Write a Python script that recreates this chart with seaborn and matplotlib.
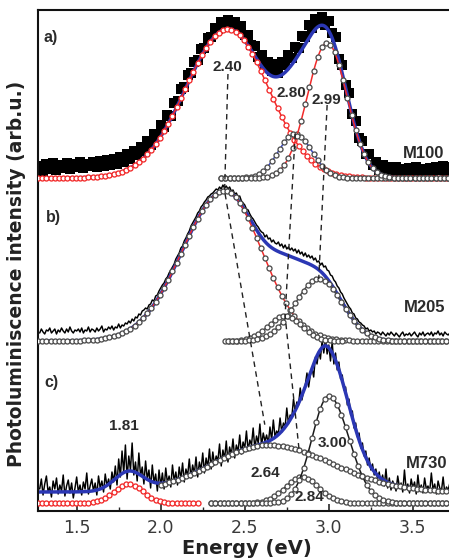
import numpy as np
import matplotlib
matplotlib.use("Agg")
import matplotlib.pyplot as plt
import seaborn as sns

sns.set_theme(style="white")
plt.rcParams["font.family"] = ["Liberation Sans", "DejaVu Sans"]

# ---------------------------------------------------------------
# Measured PL spectra (intensity above each trace's own baseline)
# evenly sampled between 1.28 and 3.72 eV
# ---------------------------------------------------------------
energy_first, energy_last = 1.28, 3.72

pl_m100 = [
    12, 7, 14, 9, 15, 8,
    13, 10, 15, 9, 14, 11, 16, 10, 14, 12,
    16, 11, 17, 12, 18, 13, 19, 14, 21, 16,
    24, 19, 27, 23, 31, 27, 37, 33, 44, 42,
    53, 51, 63, 62, 75, 77, 89, 91, 103, 105,
    116, 118, 129, 130, 140, 141, 150, 149, 156, 153,
    158, 154, 156, 151, 152, 143, 143, 133, 132, 121,
    123, 113, 116, 107, 114, 105, 116, 113, 123, 120,
    131, 130, 142, 141, 153, 150, 159, 155, 161, 153,
    157, 145, 141, 119, 113, 93, 85, 64, 57, 40,
    37, 24, 24, 13, 16, 8, 13, 6, 11, 5,
    11, 4, 9, 6, 10, 5, 11, 5, 9, 6,
    10, 7, 11, 8, 12, 7, 11,
]

pl_m205 = [
    8, 12,
    9, 7, 11, 10, 13, 8, 10, 12, 7, 11,
    9, 13, 10, 8, 12, 9, 14, 10, 8, 11,
    10, 12, 9, 13, 8, 11, 10, 14, 9, 12,
    11, 9, 13, 10, 12, 15, 9, 12, 11, 14,
    12, 15, 11, 14, 13, 17, 13, 16, 15, 18,
    17, 20, 18, 22, 20, 24, 23, 27, 26, 30,
    31, 33, 32, 36, 37, 41, 40, 45, 46, 50,
    53, 56, 58, 62, 64, 68, 71, 74, 77, 82,
    85, 88, 93, 95, 100, 103, 107, 110, 115, 118,
    121, 124, 128, 130, 134, 136, 139, 141, 144, 145,
    147, 148, 150, 152, 151, 154, 152, 156, 153, 155,
    152, 154, 150, 151, 147, 148, 144, 145, 140, 138,
    136, 132, 131, 127, 124, 122, 119, 116, 114, 111,
    109, 108, 104, 106, 102, 103, 99, 101, 98, 97,
    99, 95, 97, 93, 96, 92, 94, 91, 93, 90,
    92, 88, 91, 87, 89, 85, 88, 84, 86, 83,
    85, 81, 83, 79, 80, 76, 78, 74, 75, 71,
    70, 66, 65, 61, 59, 55, 53, 49, 47, 43,
    40, 37, 34, 32, 28, 27, 23, 22, 19, 18,
    16, 15, 12, 13, 10, 11, 9, 10, 7, 9,
    8, 6, 9, 7, 5, 8, 6, 9, 7, 5,
    8, 6, 4, 7, 9, 5, 7, 6, 8, 5,
    7, 9, 6, 4, 8, 6, 9, 5, 7, 8,
    6, 9, 5, 8, 7, 10, 6, 8, 5, 9,
    7, 6, 8,
]

pl_m730 = [
    14, 24,
    8, 19, 27, 11, 16, 6, 22, 14, 25, 9,
    18, 12, 28, 7, 17, 23, 10, 20, 5, 15,
    26, 11, 18, 8, 21, 14, 30, 9, 17, 24,
    12, 20, 8, 27, 15, 22, 11, 29, 17, 24,
    14, 31, 21, 37, 18, 44, 26, 52, 30, 58,
    24, 47, 33, 60, 28, 41, 22, 50, 27, 36,
    19, 42, 24, 33, 15, 38, 20, 29, 12, 33,
    17, 30, 14, 35, 20, 27, 16, 38, 22, 31,
    18, 36, 24, 40, 21, 34, 27, 44, 25, 38,
    29, 46, 26, 41, 33, 50, 30, 45, 36, 54,
    34, 51, 38, 47, 42, 59, 37, 53, 44, 62,
    41, 56, 48, 64, 45, 58, 51, 68, 49, 61,
    55, 72, 52, 63, 58, 75, 54, 67, 60, 79,
    57, 70, 62, 68, 59, 76, 63, 83, 66, 72,
    69, 85, 71, 80, 76, 95, 79, 88, 86, 104,
    92, 101, 98, 115, 103, 112, 118, 130, 116, 128,
    135, 126, 146, 139, 152, 144, 162, 150, 165, 149,
    158, 142, 161, 139, 150, 133, 141, 124, 128, 113,
    116, 98, 104, 88, 92, 75, 80, 66, 70, 55,
    60, 47, 52, 38, 45, 33, 39, 28, 34, 24,
    31, 19, 28, 17, 34, 15, 25, 13, 22, 18,
    12, 27, 16, 20, 11, 33, 14, 19, 10, 24,
    15, 21, 9, 28, 13, 18, 10, 25, 14, 17,
    11, 30, 13, 19, 9, 22, 15, 12, 26, 10,
    16, 13, 20,
]

samples = ["M100", "M205", "M730"]
panel_tags = ["a)", "b)", "c)"]
trace_offsets = [333, 170, 8]

# ---------------------------------------------------------------
# Gaussian fit bands: centre (eV), height, low/high-side sigma,
# energy span drawn, baseline the band sits on
# ---------------------------------------------------------------
m100_centres = [2.40, 2.80, 2.99]
m100_heights = [149, 44, 135]
m100_sigma_low = [0.25, 0.10, 0.118]
m100_sigma_high = [0.24, 0.10, 0.118]
m100_spans = [(1.27, 3.72), (2.36, 3.72), (2.36, 3.72)]
m100_floor = [0, 0, 0]
m100_background = 0

m205_centres = [2.38, 2.74, 2.94]
m205_heights = [150, 25, 62]
m205_sigma_low = [0.25, 0.10, 0.14]
m205_sigma_high = [0.22, 0.10, 0.14]
m205_spans = [(1.27, 3.72), (2.38, 3.10), (2.40, 3.72)]
m205_floor = [0, 0, 0]
m205_background = 0

m730_centres = [1.81, 2.64, 2.84, 3.00]
m730_heights = [19, 47, 26, 107]
m730_sigma_low = [0.085, 0.33, 0.10, 0.10]
m730_sigma_high = [0.085, 0.38, 0.10, 0.12]
m730_spans = [(1.27, 2.22), (2.00, 3.72), (2.30, 3.72), (2.30, 3.72)]
m730_floor = [0, 11, 0, 0]
m730_background = 11

# which bands carry a printed peak energy
m100_labelled = [True, True, True]
m205_labelled = [False, False, False]
m730_labelled = [True, True, True, True]

fits = {
    "M100": dict(centre=m100_centres, height=m100_heights, s_lo=m100_sigma_low,
                 s_hi=m100_sigma_high, span=m100_spans, floor=m100_floor,
                 bg=m100_background, labelled=m100_labelled),
    "M205": dict(centre=m205_centres, height=m205_heights, s_lo=m205_sigma_low,
                 s_hi=m205_sigma_high, span=m205_spans, floor=m205_floor,
                 bg=m205_background, labelled=m205_labelled),
    "M730": dict(centre=m730_centres, height=m730_heights, s_lo=m730_sigma_low,
                 s_hi=m730_sigma_high, span=m730_spans, floor=m730_floor,
                 bg=m730_background, labelled=m730_labelled),
}

# ---------------------------------------------------------------
# styling
# ---------------------------------------------------------------
RED = "#f22a2a"
BLUE = "#2b37b4"
GREY = "#4d4d4d"
TEXT = "#2b2b2b"

band_line_colours = {
    "M100": [RED, "#3a48c8", RED],
    "M205": [RED, GREY, GREY],
    "M730": [RED, "#5a5a70", "#1a1a1a", "#1a1a1a"],
}
band_marker_edges = {
    "M100": [RED, GREY, GREY],
    "M205": [GREY, GREY, GREY],
    "M730": [RED, GREY, GREY, GREY],
}

# label placement (eV, height) for peak energies, sample names, tags
peak_label_xy = {
    "M100": [(2.395, 444), (2.775, 418), (2.985, 411)],
    "M205": [None, None, None],
    "M730": [(1.78, 85), (2.625, 38), (2.885, 14), (3.025, 68)],
}
name_xy = [(3.565, 358), (3.57, 204), (3.58, 47)]
tag_xy = [(1.305, 474), (1.315, 294), (1.305, 129)]

# dashed guides joining corresponding bands
guide_anchors = [
    [("M100", 0), ("M205", 0), ("M730", 1)],
    [("M100", 1), ("M205", 1), ("M730", 2)],
    [("M100", 2), ("M205", 2)],
]
guide_start_gap = [45, 0, 62]
guide_end_frac = [0.92, 0.85, 1.0]


def band(e, centre, height, s_lo, s_hi):
    width = np.where(e < centre, s_lo, s_hi)
    return height * np.exp(-0.5 * ((e - centre) / width) ** 2)


def peak_top(name, i):
    f = fits[name]
    k = samples.index(name)
    return f["centre"][i], trace_offsets[k] + f["floor"][i] + f["height"][i]


fig = plt.figure(figsize=(4.49, 5.59), dpi=100)
ax = fig.add_axes([38 / 449, 48 / 559, 411 / 449, 501 / 559])

measured = {"M100": pl_m100, "M205": pl_m205, "M730": pl_m730}
e_full = np.arange(1.27, 3.7201, 0.005)

for k, name in enumerate(samples):
    off = trace_offsets[k]
    f = fits[name]
    vals = np.asarray(measured[name], dtype=float)
    e_meas = np.linspace(energy_first, energy_last, len(vals))

    if name == "M100":
        sns.scatterplot(x=e_meas, y=vals + off, marker="s", s=54, color="black",
                        linewidth=0, ax=ax, zorder=1, legend=False)
    else:
        sns.lineplot(x=e_meas, y=vals + off, color="black", lw=1.05, ax=ax,
                     zorder=1, errorbar=None, legend=False)

    total = np.full_like(e_full, float(f["bg"]))
    for i in range(len(f["centre"])):
        total += band(e_full, f["centre"][i], f["height"][i], f["s_lo"][i], f["s_hi"][i])
    sns.lineplot(x=e_full, y=total + off, color=BLUE, lw=2.5, ax=ax, zorder=2,
                 errorbar=None, legend=False)

    for i in range(len(f["centre"])):
        lo, hi = f["span"][i]
        e = np.arange(lo, hi + 1e-9, 0.005)
        y = f["floor"][i] + band(e, f["centre"][i], f["height"][i], f["s_lo"][i], f["s_hi"][i])
        sns.lineplot(x=e, y=y + off, color=band_line_colours[name][i], lw=1.1,
                     marker="o", markevery=5, markersize=3.6, mfc="white",
                     mec=band_marker_edges[name][i], mew=0.95, ax=ax,
                     zorder=3, errorbar=None, legend=False)
        xy = peak_label_xy[name][i]
        if f["labelled"][i] and xy is not None:
            ax.text(xy[0], xy[1], f"{f['centre'][i]:.2f}", ha="center", va="center",
                    fontsize=11, fontweight="bold", color=TEXT, zorder=6)

    ax.text(*name_xy[k], name, ha="center", va="center", fontsize=12,
            fontweight="bold", color=TEXT, zorder=6)
    ax.text(*tag_xy[k], panel_tags[k], ha="left", va="center", fontsize=11.5,
            fontweight="bold", color=TEXT, zorder=6)

for anchors, gap, frac in zip(guide_anchors, guide_start_gap, guide_end_frac):
    pts = [list(peak_top(n, i)) for n, i in anchors]
    pts[0][1] -= gap
    (x0, y0), (x1, y1) = pts[-2], pts[-1]
    pts[-1] = [x0 + frac * (x1 - x0), y0 + frac * (y1 - y0)]
    xs, ys = zip(*pts)
    ax.plot(xs, ys, ls=(0, (4, 3.2)), color="#222222", lw=1.0, zorder=4)

ax.set_xlim(1.27, 3.715)
ax.set_ylim(0, 501)
ax.set_yticks([])
ax.set_xticks([1.5, 2.0, 2.5, 3.0, 3.5])
ax.set_xticks([1.75, 2.25, 2.75, 3.25], minor=True)
ax.set_xticklabels(["1.5", "2.0", "2.5", "3.0", "3.5"], family="DejaVu Sans",
                   fontsize=12.5, color="#3a3a3a")
ax.tick_params(axis="x", which="major", direction="in", length=5, width=1.2,
               bottom=True, top=False, pad=6)
ax.tick_params(axis="x", which="minor", direction="in", length=3, width=1.0,
               bottom=True, top=False)
ax.set_xlabel("")
ax.set_ylabel("")
for side in ["left", "top", "bottom"]:
    ax.spines[side].set_visible(True)
    ax.spines[side].set_color("#111111")
    ax.spines[side].set_linewidth(1.5)
ax.spines["right"].set_visible(False)

fig.text(247 / 449, 1 - 549 / 559, "Energy (eV)", ha="center", va="center",
         fontsize=14, fontweight="bold", family="DejaVu Sans", color="#222222")
fig.text(17 / 449, 1 - 274 / 559, "Photoluminiscence intensity (arb.u.)",
         rotation=90, ha="center", va="center", fontsize=13.5,
         fontweight="bold", family="DejaVu Sans", color="#222222")

fig.savefig("out.png", dpi=100)
